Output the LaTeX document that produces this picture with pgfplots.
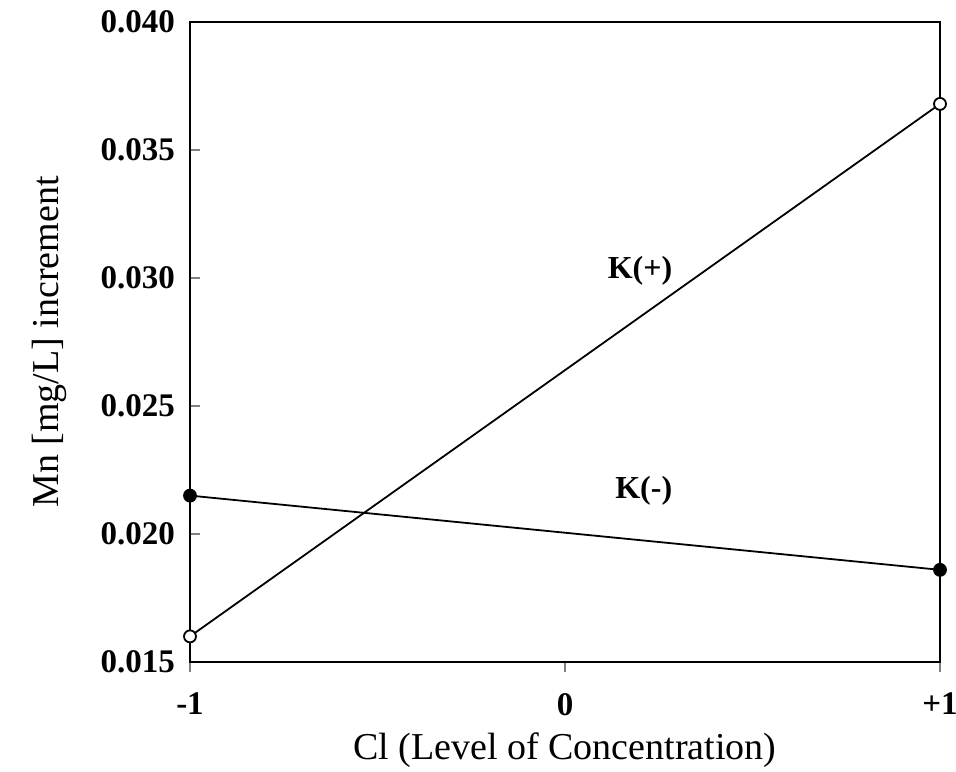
\documentclass[border=0pt]{standalone}
\usepackage{pgfplots}
\pgfplotsset{compat=1.18}
\usepackage{fontspec}
\setmainfont{Liberation Serif}
\begin{document}
\begin{tikzpicture}
\path[use as bounding box] (-95pt,-54.5pt) rectangle (383pt,331pt);
\begin{axis}[
  at={(0,0)}, anchor=south west,
  scale only axis, width=375pt, height=320pt,
  xmin=-1, xmax=1, ymin=0.015, ymax=0.040,
  scaled y ticks=false,
  axis line style={line width=1.3pt},
  xtick={-1,0,1}, xticklabels={\textbf{-1},\textbf{0},\textbf{+1}},
  ytick={0.015,0.020,0.025,0.030,0.035,0.040},
  yticklabels={\textbf{0.015},\textbf{0.020},\textbf{0.025},\textbf{0.030},\textbf{0.035},\textbf{0.040}},
  xtick pos=bottom, ytick pos=left,
  tick align=inside,
  major tick length=5pt,
  xtick style={line width=1pt, yshift=-5pt},
  ytick style={line width=1pt},
  ticklabel style={font=\fontsize{16.5}{19}\selectfont},
  xticklabel style={yshift=-12pt},
  yticklabel style={xshift=-4pt},
  xlabel={Cl (Level of Concentration)},
  ylabel={Mn [mg/L] increment},
  label style={font=\fontsize{19}{22}\selectfont},
  xlabel style={at={(axis description cs:0.5,-0.1375)}, anchor=center},
  ylabel style={at={(axis description cs:-0.187,0.5)}, anchor=center},
  clip=false,
]
\addplot[black, line width=0.9pt, mark=*, mark size=3pt, mark options={fill=white, line width=0.9pt}]
  coordinates {(-1,0.0160) (1,0.0368)};
\addplot[black, line width=0.9pt, mark=*, mark size=3pt, mark options={fill=black}]
  coordinates {(-1,0.0215) (1,0.0186)};
\node[font=\fontsize{16}{19}\selectfont\bfseries] at (axis cs:0.2,0.0303) {K(+)};
\node[font=\fontsize{16}{19}\selectfont\bfseries] at (axis cs:0.21,0.0217) {K(-)};
\end{axis}
\end{tikzpicture}
\end{document}
